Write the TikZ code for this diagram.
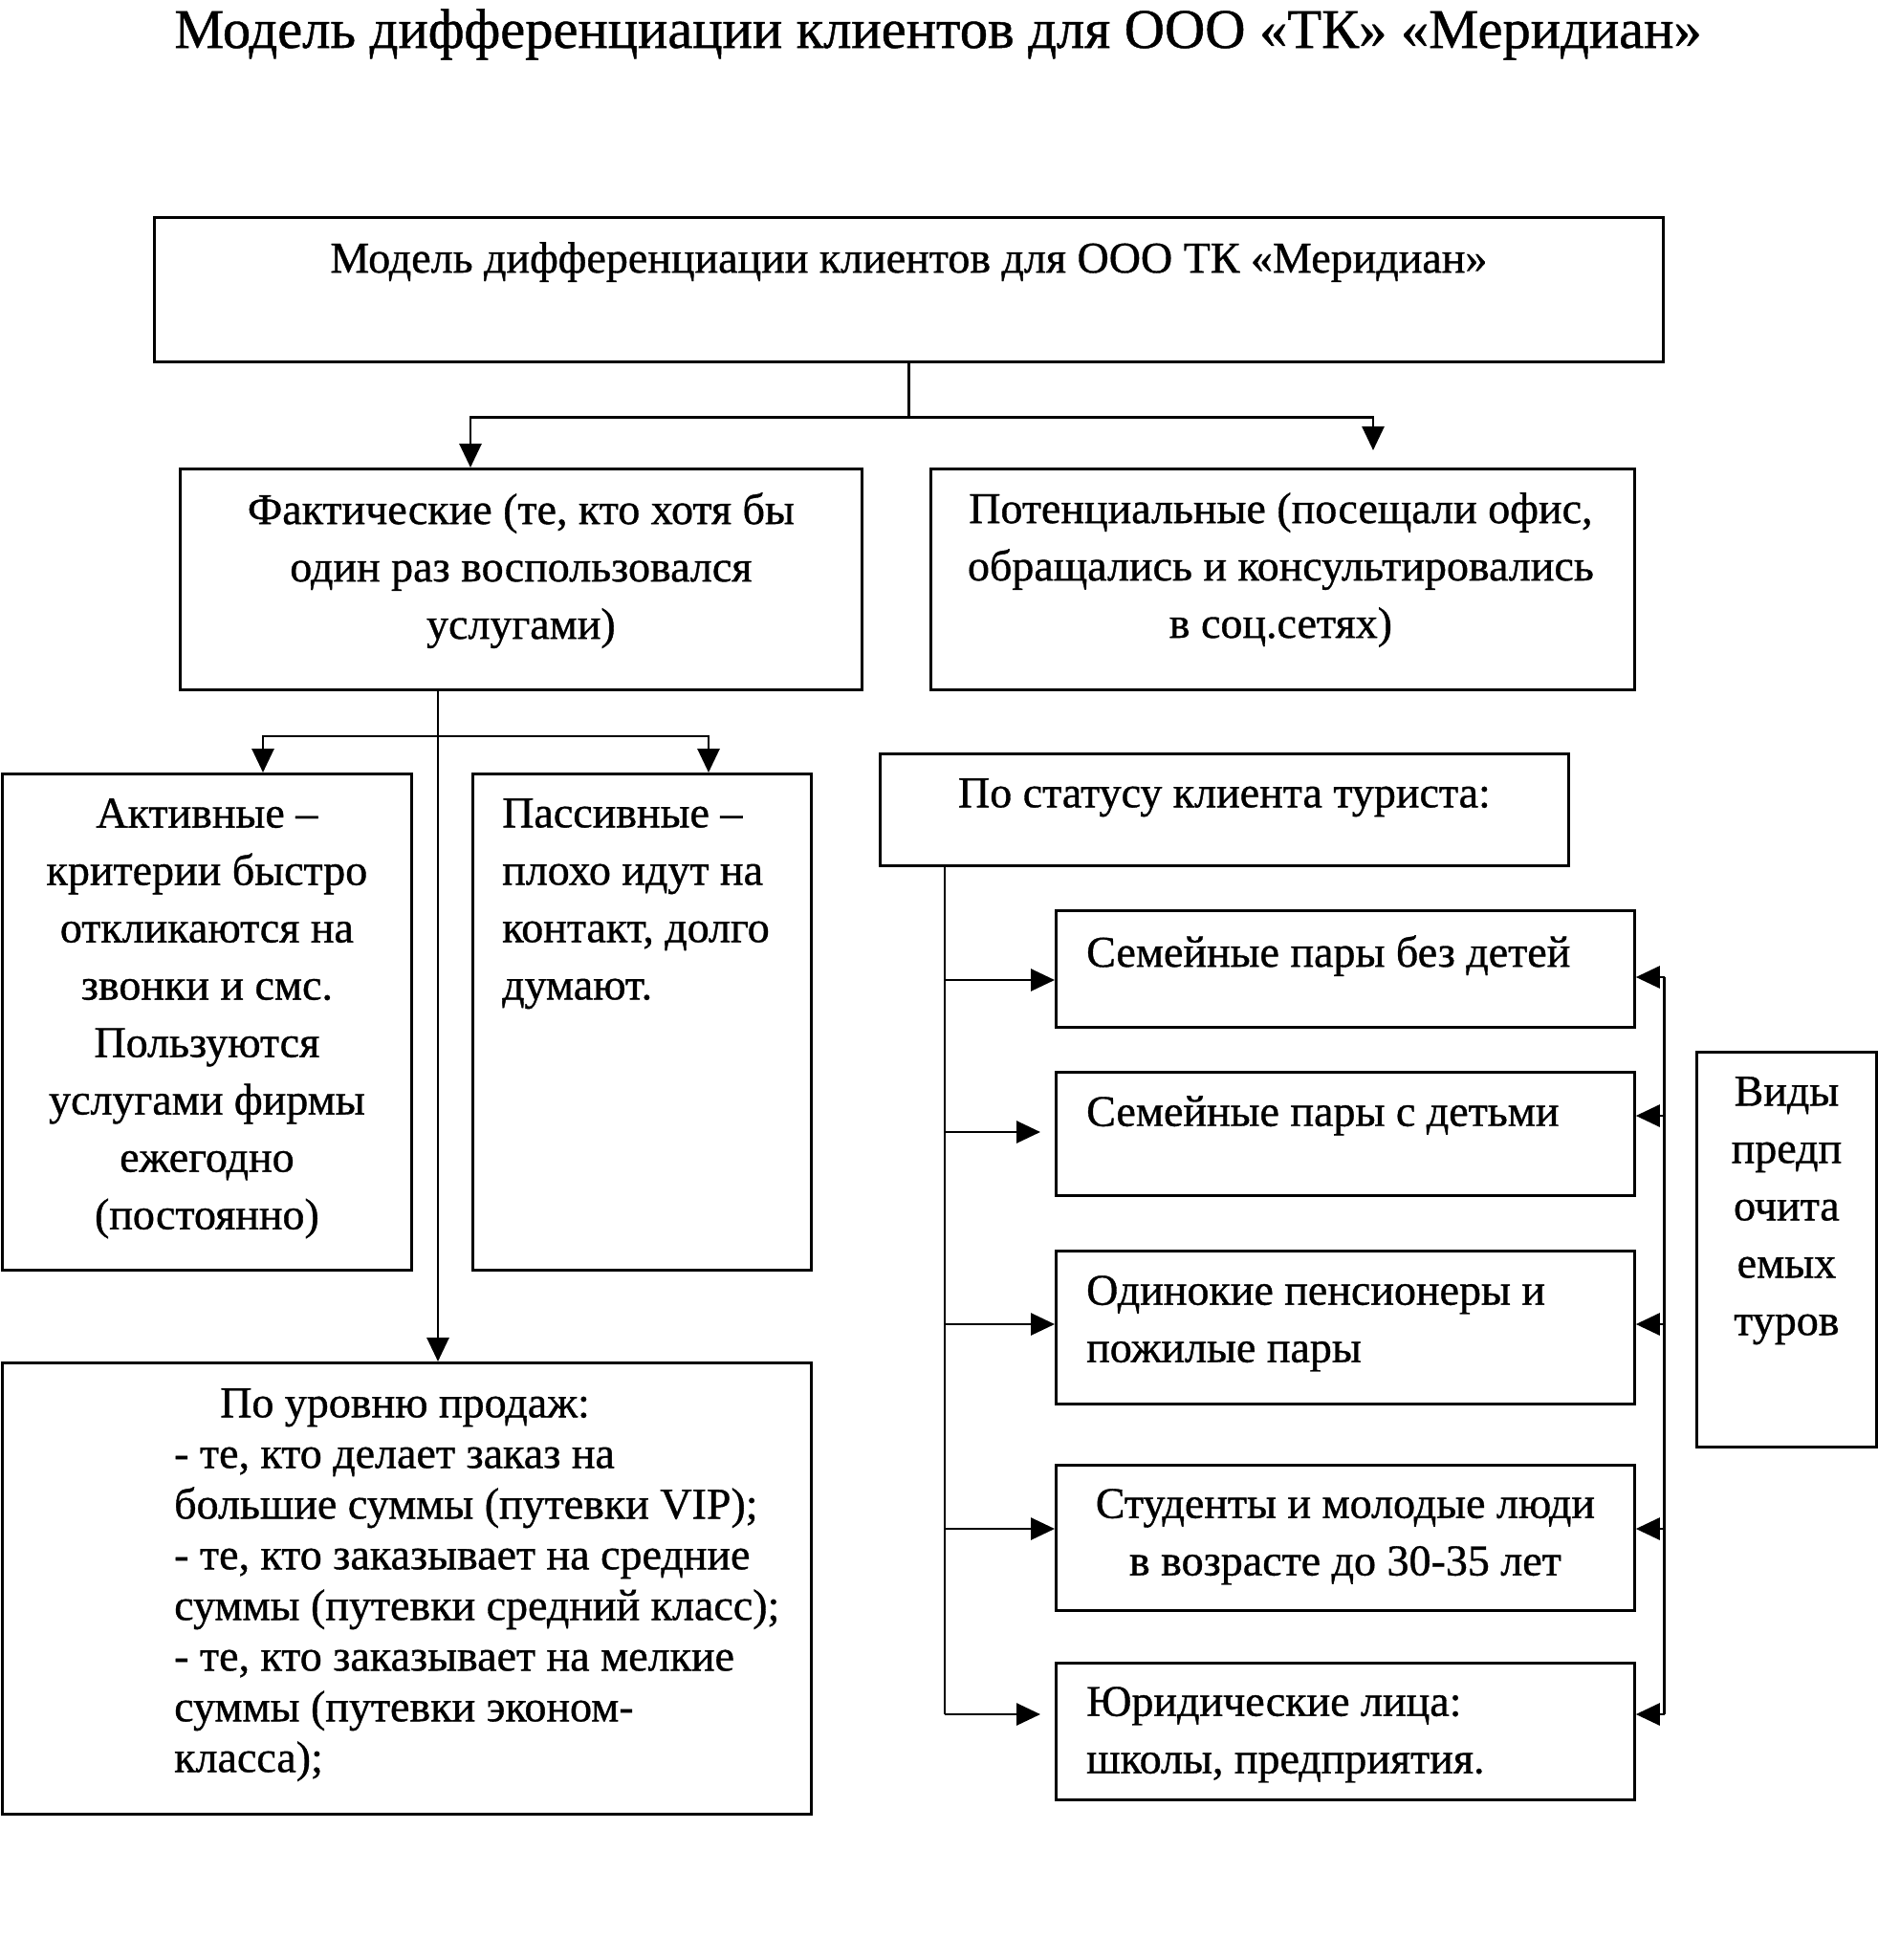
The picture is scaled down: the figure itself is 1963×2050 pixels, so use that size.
\documentclass[tikz,border=0pt]{standalone}
\usepackage{fontspec}
\setmainfont{Liberation Serif}[FakeBold=0.8]
\usetikzlibrary{calc, arrows.meta, positioning}
\tikzset{
    box/.style = {draw, line width=2.8pt, rectangle, inner sep=0pt, anchor=north west},
    txt/.style = {inner sep=0pt, anchor=north, align=center, font=\fontsize{46}{60}\selectfont},
    ltxt/.style = {txt, anchor=north west, align=left},
    ln/.style = {line width=2.8pt},
    arr/.style = {line width=2.8pt, -{Triangle[length=25pt, width=23pt]}},
    darr/.style = {line width=2.8pt, {Triangle[length=25pt, width=23pt]}-{Triangle[length=25pt, width=23pt]}}
}
\begin{document}
\begin{tikzpicture}[x=1pt, y=-1pt]
        \useasboundingbox (0,0) rectangle (1963,2050);
        
        %title
        
        \node[txt, anchor=center, font=\fontsize{58.5}{70}\selectfont] (title) at (981,36) {Модель дифференциации клиентов для ООО «ТК» «Меридиан»};
        
        %boxes
        
        \node[box, minimum width=1578pt, minimum height=151pt] (model) at (160,226) {};
        \node[box, minimum width=713pt, minimum height=231pt] (fakt) at (187,489) {};
        \node[box, minimum width=736pt, minimum height=231pt] (pot) at (972,489) {};
        \node[box, minimum width=428pt, minimum height=519pt] (act) at (1,808) {};
        \node[box, minimum width=354pt, minimum height=519pt] (pas) at (493,808) {};
        \node[box, minimum width=846pt, minimum height=472pt] (level) at (1,1424) {};
        \node[box, minimum width=720pt, minimum height=117pt] (status) at (919,787) {};
        \node[box, minimum width=605pt, minimum height=122pt] (c1) at (1103,951) {};
        \node[box, minimum width=605pt, minimum height=129pt] (c2) at (1103,1120) {};
        \node[box, minimum width=605pt, minimum height=160pt] (c3) at (1103,1307) {};
        \node[box, minimum width=605pt, minimum height=152pt] (c4) at (1103,1531) {};
        \node[box, minimum width=605pt, minimum height=143pt] (c5) at (1103,1738) {};
        \node[box, minimum width=188pt, minimum height=413pt] (vid) at (1773,1099) {};
        
        %texts
        
        \node[txt] (modelT) at ($(model.north)+(0,27)$) {Модель дифференциации клиентов для ООО ТК «Меридиан»};
        \node[txt] (faktT) at ($(fakt.north)+(0,26)$) {Фактические (те, кто хотя бы\\один раз воспользовался\\услугами)};
        \node[txt] (potT) at ($(pot.north)+(-2,26)$) {Потенциальные (посещали офис,\\обращались и консультировались\\в соц.сетях)};
        \node[txt] (actT) at ($(act.north)+(0,27)$) {Активные –\\критерии быстро\\откликаются на\\звонки и смс.\\Пользуются\\услугами фирмы\\ежегодно\\(постоянно)};
        \node[ltxt] (pasT) at ($(pas.north west)+(32,27)$) {Пассивные –\\плохо идут на\\контакт, долго\\думают.};
        \node[ltxt, font=\fontsize{46}{53}\selectfont] (levelT) at ($(level.north west)+(181,28)$) {\hspace*{48pt}По уровню продаж:\\- те, кто делает заказ на\\большие суммы (путевки VIP);\\- те, кто заказывает на средние\\суммы (путевки средний класс);\\- те, кто заказывает на мелкие\\суммы (путевки эконом-\\класса);};
        \node[txt] (statusT) at ($(status.north)+(0,27)$) {По статусу клиента туриста:};
        \node[ltxt] (c1T) at ($(c1.north west)+(33,27)$) {Семейные пары без детей};
        \node[ltxt] (c2T) at ($(c2.north west)+(33,26)$) {Семейные пары с детьми};
        \node[ltxt] (c3T) at ($(c3.north west)+(33,27)$) {Одинокие пенсионеры и\\пожилые пары};
        \node[txt] (c4T) at ($(c4.north)+(0,26)$) {Студенты и молодые люди\\в возрасте до 30-35 лет};
        \node[ltxt] (c5T) at ($(c5.north west)+(33,26)$) {Юридические лица:\\школы, предприятия.};
        \node[txt] (vidT) at ($(vid.north)+(0,27)$) {Виды\\предп\\очита\\емых\\туров};
        
        %arrows
        
        \draw[ln] (model.south) -- ++(0,57) coordinate (mj);
        \draw[darr] ($(fakt.north west)+(305,0)$) |- (mj) -| ($(pot.north west)+(464,-18)$);
        
        \coordinate (fj) at ($(fakt.south west)+(271,0)$);
        \draw[arr] (fj) -- (fj |- level.north);
        \coordinate (bL) at ($(act.north west)+(274,-38)$);
        \coordinate (bR) at ($(pas.north west)+(248,-38)$);
        \draw[darr] (bL |- act.north) -- (bL) -- (bR) -- (bR |- pas.north);
        
        \coordinate (s0) at ($(status.south west)+(69,0)$);
        \coordinate (r0) at ($(c1.north east)+(30,71)$);
        \foreach \b/\dl/\g/\dr in {c1/74/0/71, c2/64/15/47, c3/78/0/78, c4/68/0/68, c5/55/15/55} {
            \path ($(\b.north west)+(0,\dl)$) coordinate (\b-l);
            \path ($(\b.north east)+(0,\dr)$) coordinate (\b-r);
            \draw[arr] (s0 |- \b-l) -- ($(\b-l)+(-\g,0)$);
            \draw[arr] (r0 |- \b-r) -- (\b-r);
        }
        \draw[ln] (s0) -- (s0 |- c5-l);
        \draw[ln] (r0) -- (r0 |- c5-r);
    \end{tikzpicture}
\end{document}
